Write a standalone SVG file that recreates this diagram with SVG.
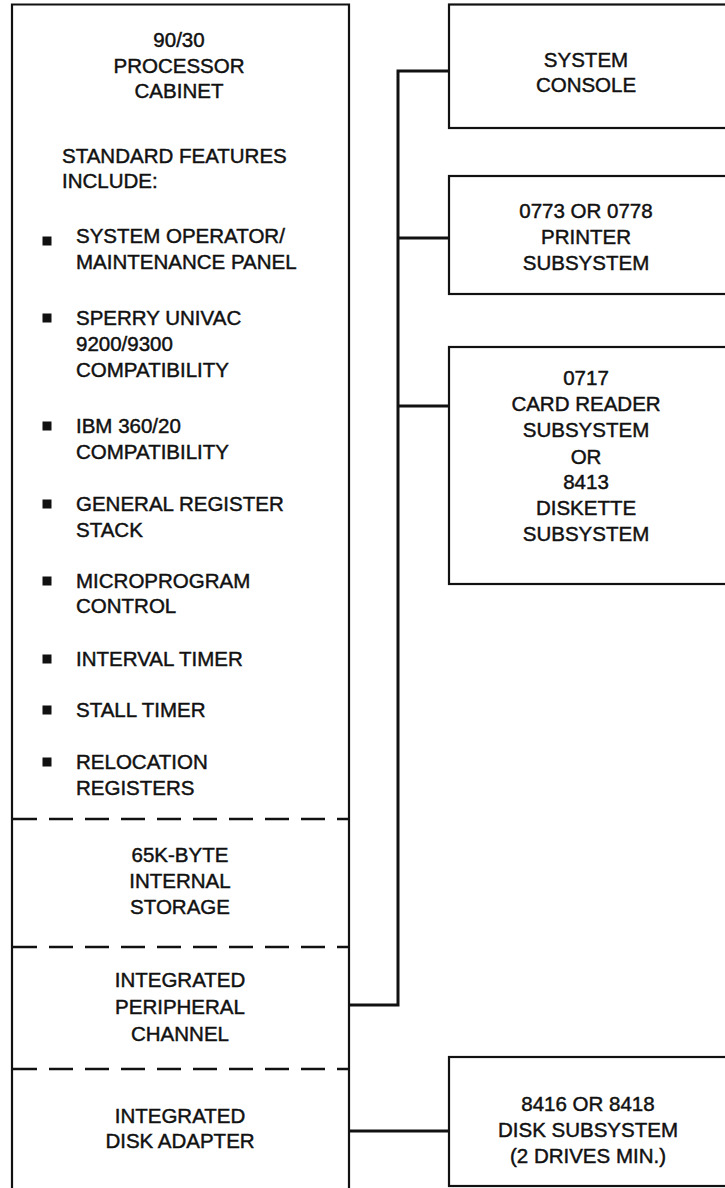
<svg xmlns="http://www.w3.org/2000/svg" width="725" height="1188" viewBox="0 0 725 1188">
<style>
.box{fill:#fff;stroke:#111;stroke-width:2.2}
.dash{stroke:#111;stroke-width:2.5;stroke-dasharray:24 12;fill:none}
.conn{stroke:#111;stroke-width:3;fill:none}
text{font-family:"Liberation Sans",Arial,sans-serif;font-size:20.5px;fill:#111;stroke:#111;stroke-width:0.45}
.c{text-anchor:middle}
.bul{fill:#111}
</style>
<rect width="725" height="1188" fill="#fff"/>
<g id="connectors">
<polyline class="conn" points="349,1005 398,1005 398,71 449,71"/>
<line class="conn" x1="398" y1="238" x2="449" y2="238"/>
<line class="conn" x1="398" y1="406" x2="449" y2="406"/>
<line class="conn" x1="349" y1="1131" x2="449" y2="1131"/>
</g>
<g id="processor-cabinet">
<path class="box" d="M12,1190 L12,4.5 L349,4.5 L349,1190"/>
<text class="c" x="179" y="47">90/30</text>
<text class="c" x="179" y="73">PROCESSOR</text>
<text class="c" x="179" y="98">CABINET</text>
<text x="62" y="163">STANDARD FEATURES</text>
<text x="62" y="188">INCLUDE:</text>
<rect class="bul" x="42.5" y="236.5" width="9" height="9"/>
<text x="76" y="243">SYSTEM OPERATOR/</text>
<text x="76" y="269">MAINTENANCE PANEL</text>
<rect class="bul" x="42.5" y="313.5" width="9" height="9"/>
<text x="76" y="325">SPERRY UNIVAC</text>
<text x="76" y="351">9200/9300</text>
<text x="76" y="377">COMPATIBILITY</text>
<rect class="bul" x="42.5" y="421.5" width="9" height="9"/>
<text x="76" y="433">IBM 360/20</text>
<text x="76" y="459">COMPATIBILITY</text>
<rect class="bul" x="42.5" y="499.5" width="9" height="9"/>
<text x="76" y="511">GENERAL REGISTER</text>
<text x="76" y="537">STACK</text>
<rect class="bul" x="42.5" y="576.5" width="9" height="9"/>
<text x="76" y="588">MICROPROGRAM</text>
<text x="76" y="613">CONTROL</text>
<rect class="bul" x="42.5" y="654.5" width="9" height="9"/>
<text x="76" y="666">INTERVAL TIMER</text>
<rect class="bul" x="42.5" y="705.5" width="9" height="9"/>
<text x="76" y="717">STALL TIMER</text>
<rect class="bul" x="42.5" y="757.5" width="9" height="9"/>
<text x="76" y="769">RELOCATION</text>
<text x="76" y="795">REGISTERS</text>
<line class="dash" x1="13" y1="819" x2="348" y2="819"/>
<text class="c" x="180" y="862">65K-BYTE</text>
<text class="c" x="180" y="888">INTERNAL</text>
<text class="c" x="180" y="914">STORAGE</text>
<line class="dash" x1="13" y1="947" x2="348" y2="947"/>
<text class="c" x="180" y="987">INTEGRATED</text>
<text class="c" x="180" y="1014">PERIPHERAL</text>
<text class="c" x="180" y="1041">CHANNEL</text>
<line class="dash" x1="13" y1="1069" x2="348" y2="1069"/>
<text class="c" x="180" y="1123">INTEGRATED</text>
<text class="c" x="180" y="1148">DISK ADAPTER</text>
</g>
<g id="system-console">
<rect class="box" x="449" y="4.5" width="290" height="123.5"/>
<text class="c" x="586" y="67">SYSTEM</text>
<text class="c" x="586" y="92">CONSOLE</text>
</g>
<g id="printer">
<rect class="box" x="449" y="176" width="290" height="118"/>
<text class="c" x="586" y="218">0773 OR 0778</text>
<text class="c" x="586" y="244">PRINTER</text>
<text class="c" x="586" y="270">SUBSYSTEM</text>
</g>
<g id="card-reader">
<rect class="box" x="449" y="347" width="290" height="237"/>
<text class="c" x="586" y="385">0717</text>
<text class="c" x="586" y="411">CARD READER</text>
<text class="c" x="586" y="437">SUBSYSTEM</text>
<text class="c" x="586" y="464">OR</text>
<text class="c" x="586" y="489">8413</text>
<text class="c" x="586" y="515">DISKETTE</text>
<text class="c" x="586" y="541">SUBSYSTEM</text>
</g>
<g id="disk-subsystem">
<rect class="box" x="449" y="1057" width="290" height="129"/>
<text class="c" x="588" y="1111">8416 OR 8418</text>
<text class="c" x="588" y="1137">DISK SUBSYSTEM</text>
<text class="c" x="588" y="1163">(2 DRIVES MIN.)</text>
</g>
</svg>
